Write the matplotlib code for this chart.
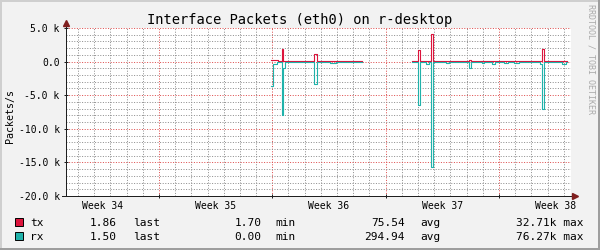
import numpy as np
import matplotlib
matplotlib.use("Agg")
import matplotlib.pyplot as plt
from matplotlib.patches import Rectangle
from matplotlib.transforms import blended_transform_factory

# time in days from the start of ISO week 35; each value holds until the next entry
t_days = [6.92, 7.04, 7.29, 7.35, 7.57, 7.69, 7.78, 8.09, 8.89, 9.02, 9.39, 9.57,
          9.76, 10.56, 10.93, 11.06, 12.54,
          15.63, 16.03, 16.15, 16.37, 16.52, 16.68, 16.82, 16.95, 17.11, 17.73,
          17.91, 18.04, 19.15, 19.27, 19.40, 19.95, 20.07, 20.57, 20.75, 21.25,
          21.31, 21.55, 21.62, 21.87, 21.93, 22.24, 22.30, 22.73, 23.22, 23.47,
          23.55, 23.64, 23.76, 24.00, 24.71, 24.89, 25.14, 25.22]
tx_pps = [200, 200, 200, 20, 1900, 150, 150, 20, 150, 20, 150, 1150,
          20, 150, 150, 20, np.nan,
          20, 1800, 20, 150, 150, 150, 4100, 150, 20, 150,
          150, 20, 300, 150, 20, 100, 20, 20, 150, 20,
          150, 150, 20, 150, 150, 150, 20, 150, 20, 150,
          150, 1900, 150, 20, 150, 150, 20, np.nan]
rx_pps = [3700, 300, 60, 20, 7900, 900, 20, 20, 20, 20, 20, 3400,
          20, 200, 20, 20, np.nan,
          20, 6500, 20, 20, 350, 20, 15700, 20, 20, 200,
          20, 20, 1000, 20, 20, 150, 20, 400, 20, 20,
          250, 20, 20, 20, 250, 20, 20, 20, 20, 100,
          400, 7100, 20, 20, 20, 350, 20, np.nan]

week_names = ["Week 34", "Week 35", "Week 36", "Week 37", "Week 38"]
week_starts = [-7, 0, 7, 14, 21]
y_ticks = [5000, 0, -5000, -10000, -15000, -20000]
y_tick_labels = ["5.0 k", "0.0", "-5.0 k", "-10.0 k", "-15.0 k", "-20.0 k"]

legend_names = ["tx", "rx"]
legend_last = ["1.86", "1.50"]
legend_min = ["1.70", "0.00"]
legend_avg = ["75.54", "294.94"]
legend_max = ["32.71k", "76.27k"]

TX_COLOR = "#DC143C"
RX_COLOR = "#20B2AA"
MONO = "DejaVu Sans Mono"
W, H = 600, 250


def fx(px):
    return px / W


def fy(py):
    return 1 - py / H


fig = plt.figure(figsize=(6, 2.5), dpi=100, facecolor="#F2F2F2")

# 3d frame like rrdtool draws it
fig.add_artist(Rectangle((0, fy(2)), 1, fy(0) - fy(2), transform=fig.transFigure,
                         color="#CFCFCF", lw=0))
fig.add_artist(Rectangle((0, 0), fx(2), 1, transform=fig.transFigure,
                         color="#CFCFCF", lw=0))
fig.add_artist(Rectangle((0, 0), 1, fy(248), transform=fig.transFigure,
                         color="#9E9E9E", lw=0))
fig.add_artist(Rectangle((fx(598), 0), fx(2), 1, transform=fig.transFigure,
                         color="#9E9E9E", lw=0))

ax = fig.add_axes([fx(66), fy(196), fx(571) - fx(66), fy(28) - fy(196)])
ax.set_facecolor("white")
ax.set_xlim(-5.74, 25.45)
ax.set_ylim(-20000, 5000)

# grid: days / weeks, 1k / 5k
ax.set_xticks(week_starts[1:])
ax.set_xticks(np.arange(-5, 26), minor=True)
ax.set_yticks(y_ticks)
ax.set_yticklabels(y_tick_labels)
ax.set_yticks(np.arange(-20000, 5001, 1000), minor=True)
ax.grid(which="minor", color=(0.56, 0.56, 0.56, 0.38), lw=0.72, ls=(0, (1, 1.6)))
ax.grid(which="major", color=(0.87, 0.31, 0.31, 0.45), lw=0.72, ls=(0, (1, 1.6)))
ax.set_axisbelow(True)
ax.tick_params(axis="x", which="major", labelbottom=False, direction="inout",
               length=3, width=0.72, color="#1F1F1F")
ax.tick_params(axis="y", which="major", direction="inout", length=3, width=0.72,
               color="#1F1F1F", pad=3.0, labelsize=7)
ax.tick_params(which="minor", length=0)
for lab in ax.get_yticklabels():
    lab.set_fontfamily(MONO)
for sp in ax.spines.values():
    sp.set_visible(False)

# week labels centred in each week
tr = blended_transform_factory(ax.transData, ax.transAxes)
for name, start in zip(week_names, week_starts):
    ax.text(start + 3.5, -13 / 168, name, transform=tr, ha="center", va="baseline",
            fontsize=7, family=MONO, clip_on=False)

# data
t = np.array(t_days)
ax.step(t, np.array(tx_pps), where="post", color=TX_COLOR, lw=0.8)
ax.step(t, -np.array(rx_pps), where="post", color=RX_COLOR, lw=0.8)

# axes with arrows
ax.plot([0, 0], [0, 1 + 5 / 168], transform=ax.transAxes, color="#1F1F1F",
        lw=0.72, clip_on=False)
ax.plot([-4 / 505, 1 + 4 / 505], [0, 0], transform=ax.transAxes, color="#1F1F1F",
        lw=0.72, clip_on=False)
ax.plot([0], [1 + 5 / 168], transform=ax.transAxes, marker="^", ms=4,
        color="#801F1F", clip_on=False)
ax.plot([1 + 4 / 505], [0], transform=ax.transAxes, marker=">", ms=4,
        color="#801F1F", clip_on=False)

# titles
fig.text(fx(300), fy(24), "Interface Packets (eth0) on r-desktop", ha="center",
         va="baseline", fontsize=9.9, family=MONO)
fig.text(fx(10), fy(116), "Packets/s", rotation=90, ha="center", va="center",
         fontsize=7.2, family=MONO)
fig.text(fx(591), fy(4), "RRDTOOL / TOBI OETIKER", rotation=270, ha="center",
         va="top", fontsize=6, family=MONO, color="#AAAAAA")

# legend
for i, (name, color) in enumerate(zip(legend_names, [TX_COLOR, RX_COLOR])):
    base = 226.5 + 14 * i
    fig.add_artist(Rectangle((fx(15), fy(base - 0.5)), fx(8), fy(0) - fy(8),
                             transform=fig.transFigure, facecolor=color,
                             edgecolor="black", lw=0.7))
    kw = dict(va="baseline", fontsize=8, family=MONO)
    fig.text(fx(30), fy(base), name, ha="left", **kw)
    fig.text(fx(117), fy(base), legend_last[i], ha="right", **kw)
    fig.text(fx(133), fy(base), "last", ha="left", **kw)
    fig.text(fx(261.5), fy(base), legend_min[i], ha="right", **kw)
    fig.text(fx(275.5), fy(base), "min", ha="left", **kw)
    fig.text(fx(405), fy(base), legend_avg[i], ha="right", **kw)
    fig.text(fx(420), fy(base), "avg", ha="left", **kw)
    fig.text(fx(584), fy(base), legend_max[i] + " max", ha="right", **kw)

fig.savefig("out.png", dpi=100, facecolor=fig.get_facecolor())
